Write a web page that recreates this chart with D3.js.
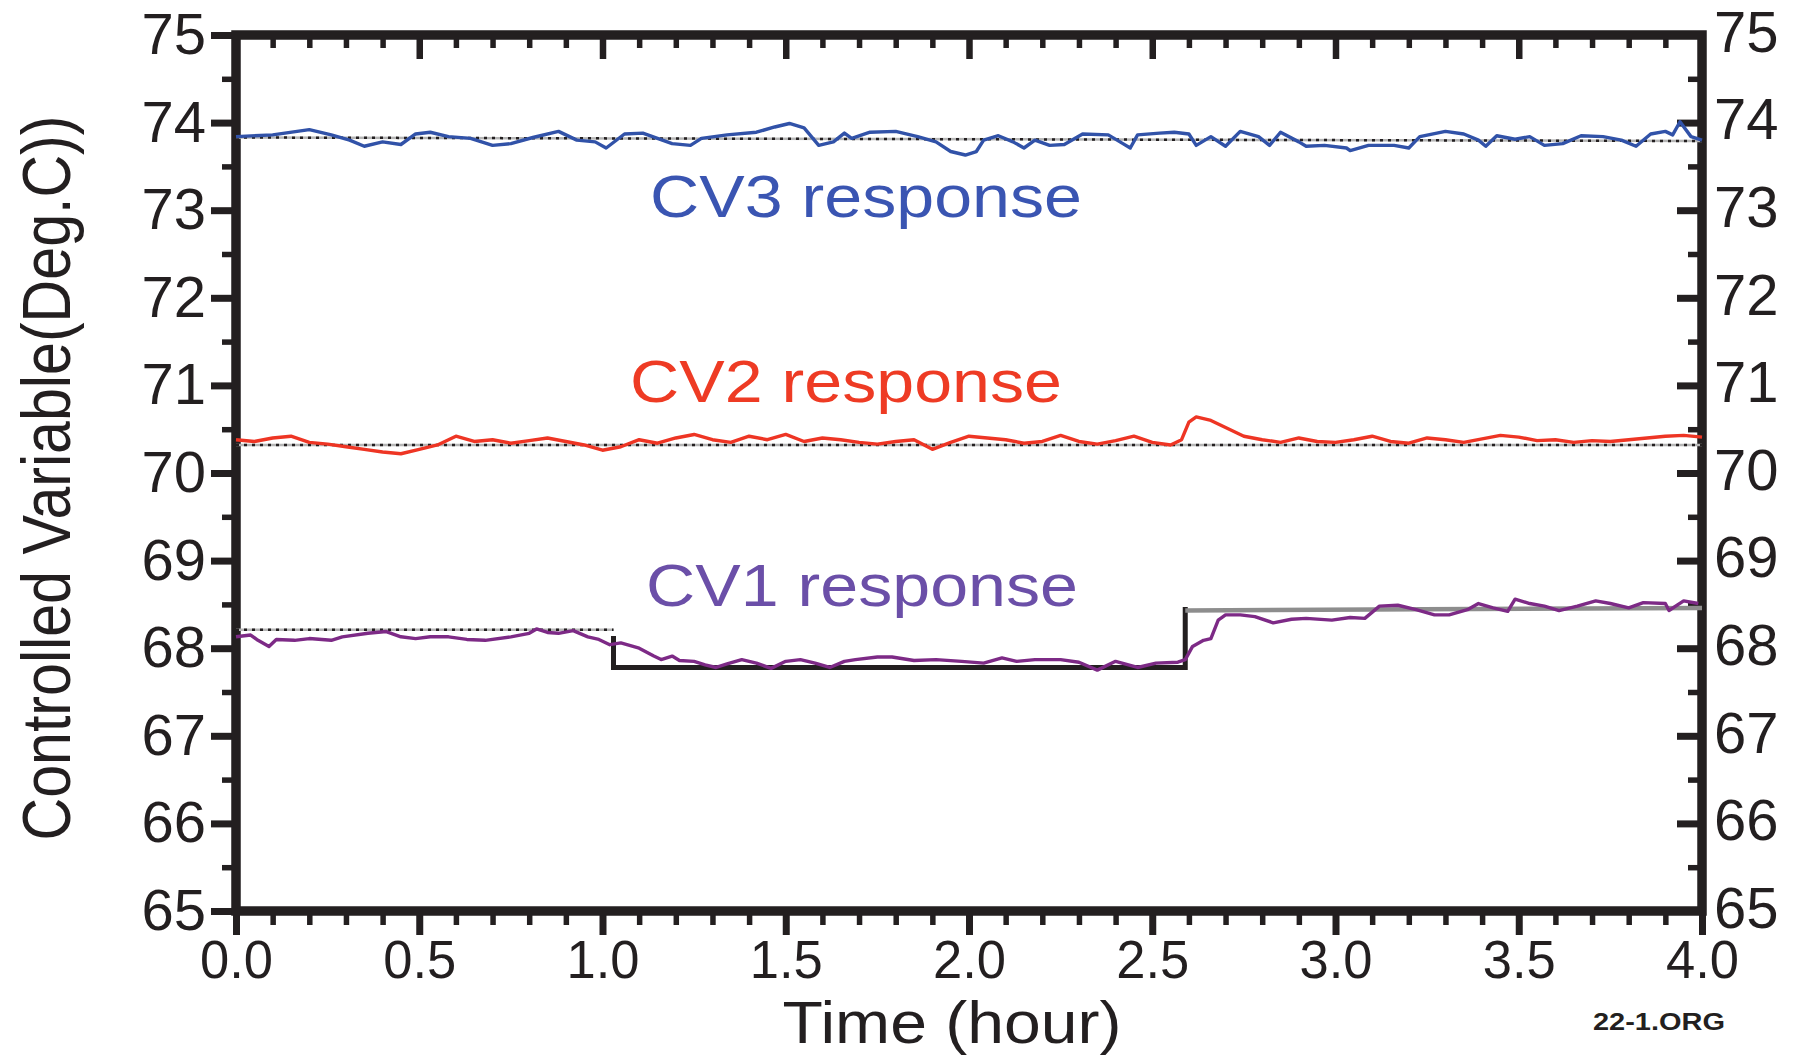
<script src="https://cdn.jsdelivr.net/npm/d3@7"></script>

<style>
  body { margin: 0; background: #fff; }
  text { font-family: "Liberation Sans", Arial, sans-serif; fill: #231f20; }
</style>

<div id="chart"></div>

<script>
// ---- data ----
var cv3Hours = [0.00,0.10,0.20,0.26,0.31,0.35,0.40,0.45,0.49,0.53,0.58,0.64,0.70,0.75,0.81,0.88,0.93,0.98,1.01,1.06,1.11,1.19,1.24,1.27,1.34,1.42,1.47,1.51,1.55,1.59,1.63,1.66,1.68,1.73,1.80,1.86,1.91,1.95,1.99,2.02,2.04,2.08,2.12,2.15,2.18,2.22,2.26,2.31,2.38,2.42,2.44,2.46,2.52,2.56,2.60,2.62,2.66,2.70,2.74,2.79,2.82,2.85,2.90,2.92,2.97,3.03,3.04,3.09,3.16,3.20,3.23,3.30,3.35,3.39,3.41,3.44,3.49,3.53,3.57,3.62,3.67,3.73,3.78,3.82,3.86,3.90,3.92,3.94,3.97,4.00];
var cv3Values = [73.84,73.86,73.92,73.86,73.80,73.73,73.78,73.75,73.87,73.89,73.84,73.82,73.74,73.76,73.83,73.90,73.80,73.78,73.71,73.87,73.88,73.76,73.74,73.82,73.86,73.89,73.95,73.99,73.94,73.74,73.78,73.88,73.82,73.89,73.90,73.84,73.78,73.67,73.63,73.67,73.80,73.85,73.78,73.71,73.80,73.74,73.75,73.87,73.86,73.76,73.71,73.86,73.88,73.89,73.87,73.74,73.84,73.73,73.90,73.84,73.74,73.89,73.78,73.73,73.74,73.71,73.68,73.74,73.74,73.71,73.84,73.90,73.87,73.80,73.73,73.85,73.81,73.84,73.74,73.76,73.85,73.84,73.80,73.73,73.87,73.90,73.86,74.01,73.84,73.80];

var cv2Hours = [0.00,0.05,0.10,0.15,0.20,0.25,0.30,0.35,0.40,0.45,0.50,0.55,0.60,0.65,0.70,0.75,0.80,0.85,0.90,0.95,1.00,1.05,1.10,1.15,1.20,1.25,1.30,1.35,1.40,1.45,1.50,1.55,1.60,1.65,1.70,1.75,1.80,1.85,1.90,1.95,2.00,2.05,2.10,2.15,2.20,2.25,2.30,2.35,2.40,2.45,2.50,2.55,2.58,2.60,2.62,2.66,2.70,2.75,2.80,2.85,2.90,2.95,3.00,3.05,3.10,3.15,3.20,3.25,3.30,3.35,3.40,3.45,3.50,3.55,3.60,3.65,3.70,3.75,3.80,3.85,3.90,3.95,4.00];
var cv2Values = [70.38,70.36,70.40,70.42,70.35,70.33,70.30,70.27,70.24,70.22,70.27,70.32,70.42,70.36,70.38,70.34,70.37,70.40,70.36,70.32,70.26,70.30,70.38,70.34,70.40,70.44,70.38,70.35,70.42,70.38,70.44,70.36,70.40,70.38,70.35,70.33,70.36,70.38,70.27,70.35,70.42,70.40,70.38,70.34,70.36,70.43,70.36,70.33,70.37,70.42,70.35,70.32,70.38,70.58,70.64,70.60,70.52,70.42,70.38,70.35,70.40,70.36,70.35,70.38,70.42,70.36,70.34,70.40,70.38,70.35,70.39,70.43,70.41,70.37,70.38,70.35,70.37,70.36,70.38,70.40,70.42,70.43,70.41];

var cv1Hours = [0.00,0.04,0.06,0.09,0.11,0.16,0.20,0.26,0.29,0.36,0.41,0.45,0.49,0.53,0.58,0.63,0.68,0.75,0.80,0.82,0.85,0.88,0.92,0.96,0.99,1.02,1.05,1.10,1.14,1.16,1.19,1.21,1.25,1.28,1.31,1.34,1.38,1.42,1.46,1.50,1.54,1.58,1.62,1.66,1.69,1.75,1.79,1.85,1.91,1.98,2.04,2.09,2.13,2.18,2.25,2.30,2.35,2.40,2.46,2.51,2.57,2.59,2.61,2.64,2.66,2.68,2.70,2.74,2.78,2.83,2.88,2.92,2.99,3.04,3.08,3.12,3.17,3.22,3.27,3.31,3.36,3.39,3.43,3.47,3.49,3.53,3.57,3.61,3.66,3.71,3.75,3.80,3.84,3.90,3.91,3.95,3.99];
var cv1Values = [68.13,68.15,68.09,68.02,68.10,68.09,68.11,68.09,68.13,68.17,68.19,68.13,68.11,68.13,68.13,68.10,68.09,68.13,68.17,68.22,68.18,68.17,68.20,68.13,68.10,68.04,68.06,68.00,67.91,67.87,67.91,67.86,67.85,67.81,67.78,67.82,67.87,67.83,67.77,67.85,67.87,67.83,67.78,67.85,67.87,67.90,67.90,67.86,67.87,67.85,67.83,67.89,67.85,67.87,67.87,67.84,67.75,67.85,67.78,67.83,67.84,67.87,68.02,68.09,68.11,68.32,68.38,68.38,68.36,68.29,68.33,68.34,68.32,68.35,68.34,68.48,68.49,68.44,68.38,68.38,68.44,68.51,68.46,68.42,68.56,68.51,68.48,68.43,68.48,68.54,68.51,68.46,68.52,68.51,68.43,68.54,68.51];

// set points
var sp3 = [[0, 73.83], [4, 73.79]];
var sp2 = [[0, 70.32], [4, 70.32]];
var sp1 = [[0, 68.21], [1.03, 68.21]];
var sp1Step = [[1.03, 68.14], [1.03, 67.78], [2.59, 67.78], [2.59, 68.47]];
var sp1After = [[2.59, 68.43], [4, 68.46]];

var yMajor = [65,66,67,68,69,70,71,72,73,74,75];
var yMinor = [65.5,66.5,67.5,68.5,69.5,70.5,71.5,72.5,73.5,74.5];
var xMajor = [0,0.5,1,1.5,2,2.5,3,3.5,4];
var xMinor = [0.1,0.2,0.3,0.4,0.6,0.7,0.8,0.9,1.1,1.2,1.3,1.4,1.6,1.7,1.8,1.9,2.1,2.2,2.3,2.4,2.6,2.7,2.8,2.9,3.1,3.2,3.3,3.4,3.6,3.7,3.8,3.9];

var width = 1803, height = 1057;

var svg = d3.select("#chart")
  .append("svg")
    .attr("width", width)
    .attr("height", height);

var x = d3.scaleLinear().domain([0, 4]).range([236, 1702]);
var y = d3.scaleLinear().domain([65, 75]).range([911, 35]);

var ink = "#231f20";

function styleAxis(g, w) {
  g.select(".domain").remove();
  g.selectAll(".tick line").attr("stroke", ink).attr("stroke-width", w);
}

// left axis
svg.append("g")
  .attr("transform", "translate(" + x(0) + ",0)")
  .call(d3.axisLeft(y).tickValues(yMajor).tickSize(25).tickPadding(5).tickFormat(d3.format("d")))
  .call(styleAxis, 7)
  .selectAll("text")
    .attr("font-size", 58);
svg.append("g")
  .attr("transform", "translate(" + x(0) + ",0)")
  .call(d3.axisLeft(y).tickValues(yMinor).tickSize(14).tickFormat(""))
  .call(styleAxis, 5.5);

// right axis, ticks point inwards
svg.append("g")
  .attr("transform", "translate(" + x(4) + ",0)")
  .call(d3.axisRight(y).tickValues(yMajor).tickSize(-25).tickPadding(12).tickFormat(d3.format("d")))
  .call(styleAxis, 7)
  .selectAll("text")
    .attr("font-size", 58)
    .attr("dy", "0.28em");
svg.append("g")
  .attr("transform", "translate(" + x(4) + ",0)")
  .call(d3.axisRight(y).tickValues(yMinor).tickSize(-14).tickFormat(""))
  .call(styleAxis, 5.5);

// bottom axis
svg.append("g")
  .attr("transform", "translate(0," + y(65) + ")")
  .call(d3.axisBottom(x).tickValues(xMajor).tickSize(24).tickPadding(5).tickFormat(d3.format(".1f")))
  .call(styleAxis, 7)
  .selectAll("text")
    .attr("font-size", 54)
    .attr("textLength", 73)
    .attr("lengthAdjust", "spacingAndGlyphs");
svg.append("g")
  .attr("transform", "translate(0," + y(65) + ")")
  .call(d3.axisBottom(x).tickValues(xMinor).tickSize(14).tickFormat(""))
  .call(styleAxis, 5.5);

// top axis, ticks point inwards
svg.append("g")
  .attr("transform", "translate(0," + y(75) + ")")
  .call(d3.axisTop(x).tickValues(xMajor).tickSize(-24).tickFormat(""))
  .call(styleAxis, 6.5);
svg.append("g")
  .attr("transform", "translate(0," + y(75) + ")")
  .call(d3.axisTop(x).tickValues(xMinor).tickSize(-13).tickFormat(""))
  .call(styleAxis, 5.5);

// frame
svg.append("rect")
  .attr("x", x(0))
  .attr("y", y(75))
  .attr("width", x(4) - x(0))
  .attr("height", y(65) - y(75))
  .attr("fill", "none")
  .attr("stroke", ink)
  .attr("stroke-width", 9.5);

var line = d3.line()
  .x(function(d) { return x(d[0]); })
  .y(function(d) { return y(d[1]); });

// set point lines (dotted)
[sp3, sp2, sp1].forEach(function(sp) {
  svg.append("path")
    .attr("d", line(sp))
    .attr("fill", "none")
    .attr("stroke", "#b5b5b5")
    .attr("stroke-width", 2.5);
  svg.append("path")
    .attr("d", line(sp))
    .attr("fill", "none")
    .attr("stroke", "#231f20")
    .attr("stroke-width", 2.5)
    .attr("stroke-dasharray", "3,5");
});

svg.append("path")
  .attr("d", line(sp1Step))
  .attr("fill", "none")
  .attr("stroke", ink)
  .attr("stroke-width", 5);

svg.append("path")
  .attr("d", line(sp1After))
  .attr("fill", "none")
  .attr("stroke", "#8d8d8d")
  .attr("stroke-width", 4.5);

// responses
var series = [
  {hours: cv3Hours, values: cv3Values, color: "#3152a8"},
  {hours: cv2Hours, values: cv2Values, color: "#ee3524"},
  {hours: cv1Hours, values: cv1Values, color: "#7d2a86"}
];

series.forEach(function(s) {
  var pts = s.hours.map(function(h, i) { return [h, s.values[i]]; });
  svg.append("path")
    .attr("d", line(pts))
    .attr("fill", "none")
    .attr("stroke", s.color)
    .attr("stroke-width", 3.4)
    .attr("stroke-linejoin", "round");
});

// series labels
var labels = [
  {text: "CV3 response", x: 650, y: 217, color: "#3a55b2"},
  {text: "CV2 response", x: 630, y: 402, color: "#ee3b24"},
  {text: "CV1 response", x: 646, y: 606, color: "#6b4fa8"}
];
svg.selectAll(".cvlabel")
  .data(labels)
  .enter()
  .append("text")
    .attr("class", "cvlabel")
    .attr("x", function(d) { return d.x; })
    .attr("y", function(d) { return d.y; })
    .attr("font-size", 60)
    .attr("textLength", 432)
    .attr("lengthAdjust", "spacingAndGlyphs")
    .style("fill", function(d) { return d.color; })
    .text(function(d) { return d.text; });

// axis titles
svg.append("text")
  .attr("transform", "translate(70,478) rotate(-90)")
  .attr("text-anchor", "middle")
  .attr("font-size", 68)
  .attr("textLength", 725)
  .attr("lengthAdjust", "spacingAndGlyphs")
  .text("Controlled Variable(Deg.C))");

svg.append("text")
  .attr("x", 952)
  .attr("y", 1043)
  .attr("text-anchor", "middle")
  .attr("font-size", 59)
  .attr("textLength", 339)
  .attr("lengthAdjust", "spacingAndGlyphs")
  .text("Time (hour)");

svg.append("text")
  .attr("x", 1593)
  .attr("y", 1030)
  .attr("font-size", 24)
  .attr("font-weight", "bold")
  .attr("textLength", 132)
  .attr("lengthAdjust", "spacingAndGlyphs")
  .text("22-1.ORG");

</script>
